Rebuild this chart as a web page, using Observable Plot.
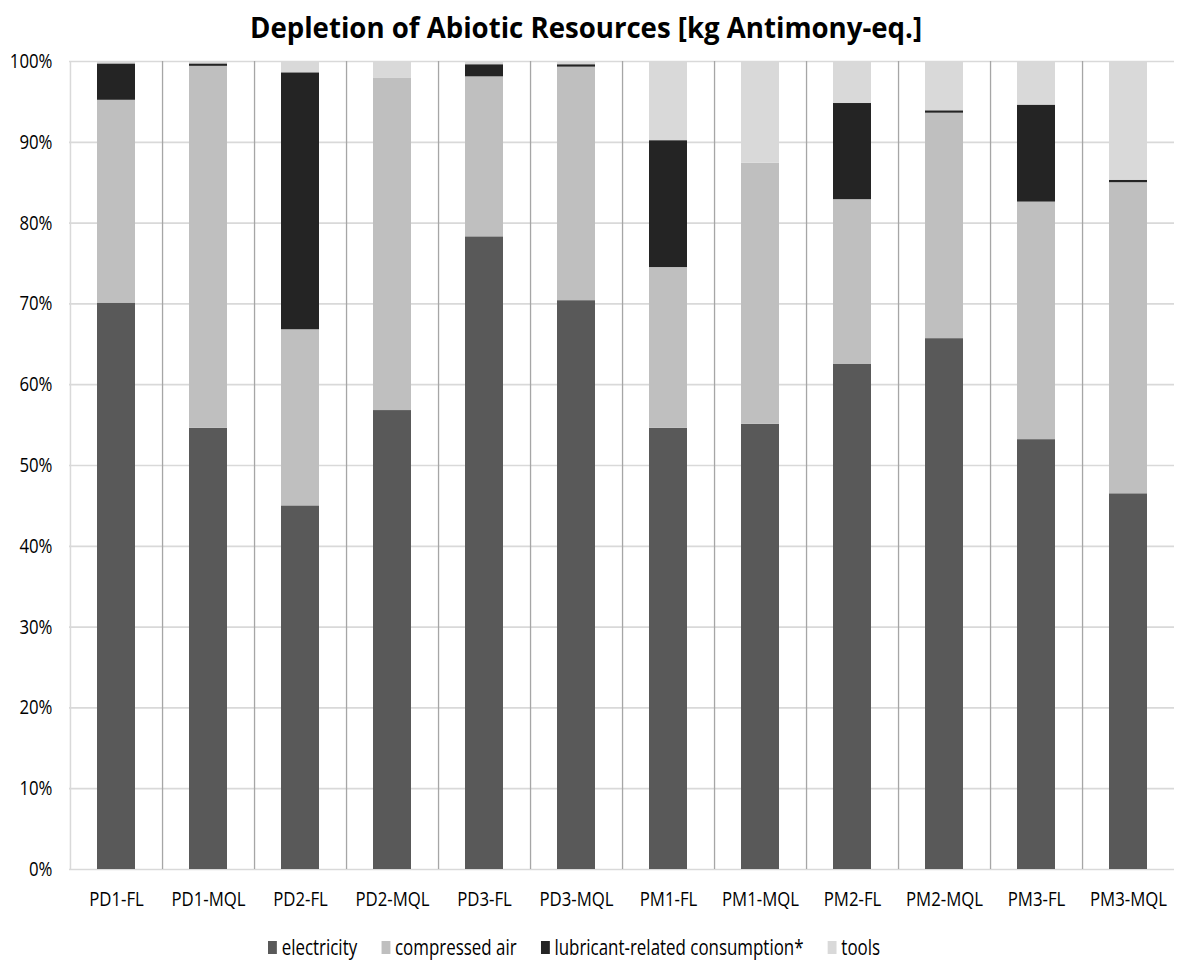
<!DOCTYPE html>
<html>
<head>
<meta charset="utf-8">
<script src="https://cdn.jsdelivr.net/npm/d3@7"></script>
<script src="https://cdn.jsdelivr.net/npm/@observablehq/plot@0.6"></script>
<style>
  html, body { margin: 0; padding: 0; background: #fff; }
  body { position: relative; width: 1181px; height: 962px; overflow: hidden; font-family: "Open Sans", sans-serif; color: #000; }
  #title { position: absolute; z-index: 2; left: 250px; top: 8px; white-space: nowrap; font-weight: bold; font-size: 28.5px; line-height: normal; transform-origin: 0 0; }
  #chart { position: absolute; z-index: 1; left: 0; top: 40px; }
  #legend { position: absolute; z-index: 2; left: 268px; top: 933px; display: flex; align-items: center; gap: 30px; font-size: 21px; line-height: 28px; white-space: nowrap; transform-origin: 0 50%; }
  #legend .item { display: flex; align-items: center; gap: 6px; }
  #legend .sw { width: 11px; height: 13px; display: inline-block; }
</style>
</head>
<body>
<div id="title">Depletion of Abiotic Resources [kg Antimony-eq.]</div>
<div id="chart"></div>
<div id="legend"></div>
<script>
const categories = ["PD1-FL","PD1-MQL","PD2-FL","PD2-MQL","PD3-FL","PD3-MQL","PM1-FL","PM1-MQL","PM2-FL","PM2-MQL","PM3-FL","PM3-MQL"];
const series = ["electricity","compressed air","lubricant-related consumption*","tools"];
const electricity   = [70.1, 54.6, 45.0, 56.8, 78.3, 70.4, 54.6, 55.1, 62.5, 65.7, 53.2, 46.5];
const compressedAir = [25.1, 44.8, 21.8, 41.1, 19.8, 28.9, 19.9, 32.3, 20.4, 27.9, 29.4, 38.5];
const lubricant     = [ 4.5,  0.3, 31.8,  0.0,  1.5,  0.3, 15.7,  0.0, 11.9,  0.3, 12.0,  0.3];
const tools         = [ 0.3,  0.3,  1.4,  2.1,  0.4,  0.4,  9.8, 12.6,  5.2,  6.1,  5.4, 14.7];
const yTicks = [0,10,20,30,40,50,60,70,80,90,100];
const colors = ["#595959","#bfbfbf","#242424","#d9d9d9"];

const valuesBySeries = [electricity, compressedAir, lubricant, tools];
const data = [];
categories.forEach((c, i) => {
  series.forEach((s, k) => data.push({category: c, series: s, value: valuesBySeries[k][i]}));
});

const W = 1181, ML = 69, MR = 7, MT = 21, MB = 50, H = 879;
const step = (W - ML - MR) / categories.length;
const font = '"Open Sans", sans-serif';

const chart = Plot.plot({
  width: W,
  height: H,
  marginLeft: ML,
  marginRight: MR,
  marginTop: MT,
  marginBottom: MB,
  style: {fontFamily: font, fontSize: "20px", color: "#000", background: "transparent"},
  x: {domain: categories, paddingInner: 0.59, paddingOuter: 0.295, label: null},
  y: {domain: [0, 100], label: null},
  color: {domain: series, range: colors},
  marks: [
    Plot.ruleY(yTicks, {stroke: "#d9d9d9", strokeWidth: 1.7}),
    Plot.ruleX(categories.slice(0, 1), {x: d => d, dx: -step / 2, stroke: "#d9d9d9", strokeWidth: 1.5}),
    Plot.ruleX(categories.slice(0, -1), {x: d => d, dx: step / 2, stroke: "#a6a6a6", strokeWidth: 1.3}),
    Plot.barY(data, {x: "category", y: "value", fill: "series", order: series}),
    Plot.axisX({tickSize: 0, tickPadding: 22, fontSize: 20, label: null}),
    Plot.axisY({ticks: yTicks, tickFormat: d => d + "%", tickSize: 0, tickPadding: 17, fontSize: 20, label: null})
  ]
});

// Narrow the axis lettering (Calibri-like condensed look) while keeping real text
chart.querySelectorAll("text").forEach(t => {
  const tr = t.getAttribute("transform") || "";
  t.setAttribute("transform", `${tr} scale(0.84,1)`);
});
document.getElementById("chart").appendChild(chart);

const legend = document.getElementById("legend");
series.forEach((s, k) => {
  const item = document.createElement("span");
  item.className = "item";
  const sw = document.createElement("span");
  sw.className = "sw";
  sw.style.background = colors[k];
  const t = document.createElement("span");
  t.textContent = s;
  item.appendChild(sw);
  item.appendChild(t);
  legend.appendChild(item);
});

function fit() {
  const title = document.getElementById("title");
  title.style.transform = "none";
  title.style.transform = `scaleX(${672 / title.offsetWidth})`;
  legend.style.transform = "none";
  legend.style.transform = `scaleX(${612 / legend.offsetWidth})`;
}
fit();
if (document.fonts && document.fonts.ready) document.fonts.ready.then(fit);
</script>
</body>
</html>
